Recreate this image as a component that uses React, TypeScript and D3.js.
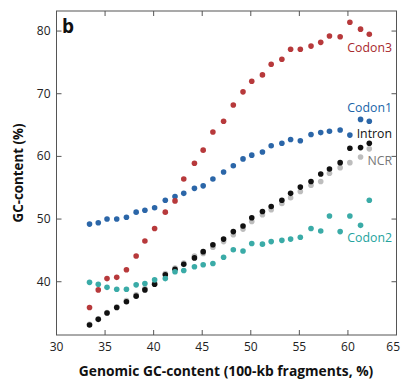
import React, { useEffect, useRef } from 'react';
import * as d3 from 'd3';

// Genomic GC-content of the 100-kb fragment bins (x)
const gcBins = [33.4, 34.3, 35.2, 36.2, 37.2, 38.2, 39.1, 40.1, 41.2, 42.2, 43.1, 44.2, 45.1, 46.1, 47.2,
  48.2, 49.2, 50.1, 51.2, 52.1, 53.2, 54.1, 55.1, 56.2, 57.2, 58.1, 59.2, 60.2, 61.3, 62.2];

const codon3 = [35.9, 38.7, 40.5, 40.7, 41.9, 44.1, 46.5, 48.5, 51.1, 52.9, 56.4, 58.9, 61.0, 63.9, 65.6,
  68.2, 70.3, 72.0, 73.0, 74.7, 75.5, 77.1, 77.1, 77.6, 78.2, 79.2, 79.1, 81.4, 80.3, 79.5];
const codon1 = [49.2, 49.4, 50.0, 50.0, 50.3, 51.1, 51.4, 51.8, 53.0, 53.6, 54.1, 54.9, 55.3, 56.4, 57.5,
  58.5, 59.6, 60.2, 60.7, 61.7, 62.1, 62.7, 62.5, 63.5, 63.8, 64.0, 64.2, 63.4, 65.9, 65.6];
const intron = [33.1, 34.0, 35.0, 35.9, 36.8, 37.7, 38.7, 39.6, 41.1, 42.0, 42.8, 43.8, 44.8, 45.9, 46.8,
  48.0, 48.9, 50.2, 51.2, 52.0, 53.0, 54.1, 55.1, 56.0, 57.2, 58.0, 59.0, 61.3, 61.4, 62.1];
const ncr = [33.2, 34.1, 35.1, 36.0, 37.0, 37.9, 38.9, 39.8, 41.3, 42.2, 43.0, 44.1, 44.5, 45.5, 46.4,
  47.5, 48.4, 49.6, 50.7, 51.5, 52.5, 53.4, 54.4, 55.4, 56.0, 57.3, 58.2, 59.0, 59.9, 61.2];
const codon2 = [39.9, 39.6, 39.1, 38.8, 38.8, 39.5, 39.7, 40.3, 40.5, 41.6, 41.8, 42.4, 42.7, 42.9, 43.9,
  45.1, 44.9, 46.1, 46.0, 46.4, 46.6, 46.8, 47.1, 48.5, 48.1, 50.5, 48.0, 50.5, 49.0, 53.0];

const xTicks = [30, 35, 40, 45, 50, 55, 60, 65];
const yTicks = [40, 50, 60, 70, 80];

const font = "'Myriad Pro', 'Open Sans', sans-serif";

export default function App() {
  const chartRef = useRef<SVGSVGElement>(null);

  useEffect(() => {
    if (!chartRef.current) return;
    const root = d3.select(chartRef.current);
    root.selectAll("*").remove();

    const width = 401;
    const height = 379;
    const margin = { top: 11, right: 4.5, bottom: 44, left: 56.5 };

    const x = d3.scaleLinear().domain([30, 65]).range([margin.left, width - margin.right]);
    const y = d3.scaleLinear().domain([31.5, 83.2]).range([height - margin.bottom, margin.top]);

    root.append("rect").attr("width", width).attr("height", height).attr("fill", "#fff");

    const axisColor = "#555";
    const tickLen = 5;

    // frame
    root.append("rect")
      .attr("x", x(30)).attr("y", y(83.2))
      .attr("width", x(65) - x(30)).attr("height", y(31.5) - y(83.2))
      .attr("fill", "none").attr("stroke", axisColor).attr("stroke-width", 1);

    // inward ticks on all four sides
    const innerX = xTicks.slice(1, -1);
    root.selectAll(".xtick-b").data(innerX).enter().append("line")
      .attr("x1", d => x(d)).attr("x2", d => x(d))
      .attr("y1", y(31.5)).attr("y2", y(31.5) - tickLen)
      .attr("stroke", axisColor);
    root.selectAll(".xtick-t").data(innerX).enter().append("line")
      .attr("x1", d => x(d)).attr("x2", d => x(d))
      .attr("y1", y(83.2)).attr("y2", y(83.2) + tickLen)
      .attr("stroke", axisColor);
    root.selectAll(".ytick-l").data(yTicks).enter().append("line")
      .attr("x1", x(30)).attr("x2", x(30) + tickLen)
      .attr("y1", d => y(d)).attr("y2", d => y(d))
      .attr("stroke", axisColor);
    root.selectAll(".ytick-r").data(yTicks).enter().append("line")
      .attr("x1", x(65)).attr("x2", x(65) - tickLen)
      .attr("y1", d => y(d)).attr("y2", d => y(d))
      .attr("stroke", axisColor);

    // tick labels (last one kept inside the page)
    root.selectAll(".xlabel").data(xTicks).enter().append("text")
      .attr("x", d => d === 65 ? width - 1 : x(d)).attr("y", y(31.5) + 16)
      .attr("text-anchor", d => d === 65 ? "end" : "middle")
      .style("font-family", font).style("font-size", "12px").style("fill", "#222")
      .text(d => d);
    root.selectAll(".ylabel").data(yTicks).enter().append("text")
      .attr("x", x(30) - 6).attr("y", d => y(d) + 4)
      .attr("text-anchor", "end")
      .style("font-family", font).style("font-size", "12px").style("fill", "#222")
      .text(d => d);

    // axis titles
    root.append("text")
      .attr("x", 226).attr("y", 376)
      .attr("text-anchor", "middle")
      .style("font-family", font).style("font-size", "13.8px").style("font-weight", "bold").style("fill", "#111")
      .text("Genomic GC-content (100-kb fragments, %)");
    root.append("text")
      .attr("transform", `translate(23,${(y(31.5) + y(83.2)) / 2}) rotate(-90)`)
      .attr("text-anchor", "middle")
      .style("font-family", font).style("font-size", "13.3px").style("font-weight", "bold").style("fill", "#111")
      .text("GC-content (%)");

    // panel letter
    root.append("text")
      .attr("x", 62).attr("y", 33)
      .style("font-family", font).style("font-size", "19px").style("font-weight", "bold").style("fill", "#111")
      .text("b");

    const series = [
      { name: "NCR", values: ncr, color: "#bdbdbd", label: "#777", labelY: 165 },
      { name: "Intron", values: intron, color: "#111111", label: "#111", labelY: 138 },
      { name: "Codon2", values: codon2, color: "#3aaba7", label: "#25a39e", labelY: 242 },
      { name: "Codon1", values: codon1, color: "#2b66a8", label: "#2064a8", labelY: 112 },
      { name: "Codon3", values: codon3, color: "#b7393b", label: "#a8292d", labelY: 52 },
    ];

    series.forEach(s => {
      root.append("g").selectAll("circle")
        .data(s.values)
        .enter()
        .append("circle")
        .attr("cx", (d, i) => x(gcBins[i]))
        .attr("cy", d => y(d))
        .attr("r", 2.8)
        .attr("fill", s.color);

      root.append("text")
        .attr("x", 392).attr("y", s.labelY)
        .attr("text-anchor", "end")
        .style("font-family", font).style("font-size", "12.3px").style("fill", s.label)
        .text(s.name);
    });
  }, []);

  return (
    <svg ref={chartRef} width={401} height={379}
      style={{ position: 'absolute', left: 0, top: 0, display: 'block' }}></svg>
  );
}
